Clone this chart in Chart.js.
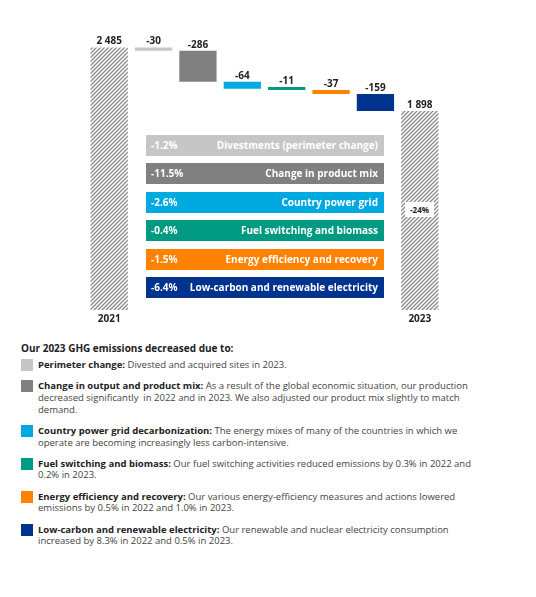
<!DOCTYPE html>
<html>
<head>
<meta charset="utf-8">
<script src="https://cdn.jsdelivr.net/npm/chart.js@4"></script>
<style>
  body { margin: 0; background: #fff; font-family: "Open Sans", sans-serif; }
  #wrap { position: relative; width: 536px; height: 597px; }
  #chartBox { position: absolute; left: 0; top: 0; width: 536px; height: 335px; }
  .driver { position: absolute; left: 146px; width: 238px; height: 21px; color: #fff;
            font-weight: 700; font-size: 10px; line-height: 21px; box-sizing: border-box;
            outline: 1px solid rgba(255,255,255,0.6); }
  .driver .pct { position: absolute; left: 5px; }
  .driver .name { position: absolute; right: 6px; }
  #total { position: absolute; left: 405px; top: 202px; width: 29px; height: 15px; background: #fff;
           font-size: 8px; font-weight: 700; color: #222; text-align: center; line-height: 15px; }
  #legend { position: absolute; left: 21px; top: 342px; width: 500px; font-size: 9.5px; color: #444;
            line-height: 11.67px; white-space: nowrap; }
  #legend h4 { margin: 0 0 4px 0; font-size: 10px; color: #222; font-weight: 700; line-height: 13px; }
  .item { position: relative; padding-left: 17px; margin-bottom: 9.6px; }
  .item .sw { position: absolute; left: 0; top: 0; width: 12px; height: 12px; }
  .item b { color: #222; font-size: 9.5px; }
</style>
</head>
<body>
<div id="wrap">
  <div id="chartBox"><canvas id="c"></canvas></div>
  <div id="drivers"></div>
  <div id="total"></div>
  <div id="legend"></div>
</div>
<script>
// data
const categories = ['2021', 'Perimeter change', 'Change in product mix', 'Country power grid',
  'Fuel switching and biomass', 'Energy efficiency and recovery', 'Low-carbon and renewable electricity', '2023'];
const tickLabels = ['2021', '', '', '', '', '', '', '2023'];
const startTotal = 2485;
const endTotal = 1898;
const changes = [-30, -286, -64, -11, -37, -159];
const shares = ['-1.2%', '-11.5%', '-2.6%', '-0.4%', '-1.5%', '-6.4%'];
const totalShare = '-24%';
const driverNames = ['Divestments (perimeter change)', 'Change in product mix', 'Country power grid',
  'Fuel switching and biomass', 'Energy efficiency and recovery', 'Low-carbon and renewable electricity'];
const colors = ['#c6c6c6', '#808080', '#00a9e0', '#009a82', '#ff8200', '#00338d'];
const legendTitle = 'Our 2023 GHG emissions decreased due to:';
const legendHeads = ['Perimeter change:', 'Change in output and product mix:', 'Country power grid decarbonization:',
  'Fuel switching and biomass:', 'Energy efficiency and recovery:', 'Low-carbon and renewable electricity:'];
const legendTexts = [
  'Divested and acquired sites in 2023.',
  'As a result of the global economic situation, our production<br>decreased significantly&nbsp; in 2022 and in 2023. We also adjusted our product mix slightly to match<br>demand.',
  'The energy mixes of many of the countries in which we<br>operate are becoming increasingly less carbon-intensive.',
  'Our fuel switching activities reduced emissions by 0.3% in 2022 and<br>0.2% in 2023.',
  'Our various energy-efficiency measures and actions lowered<br>emissions by 0.5% in 2022 and 1.0% in 2023.',
  'Our renewable and nuclear electricity consumption<br>increased by 8.3% in 2022 and 0.5% in 2023.'
];

// hatch pattern for the totals
function hatch() {
  const p = document.createElement('canvas');
  p.width = 4; p.height = 4;
  const g = p.getContext('2d');
  g.strokeStyle = '#8a8a8a';
  g.lineWidth = 1.3;
  g.beginPath();
  g.moveTo(0, 4); g.lineTo(4, 0);
  g.moveTo(-1, 1); g.lineTo(1, -1);
  g.moveTo(3, 5); g.lineTo(5, 3);
  g.stroke();
  return g.createPattern(p, 'repeat');
}

// floating bars
const floats = [[0, startTotal]];
let run = startTotal;
changes.forEach(v => { floats.push([run + v, run]); run += v; });
floats.push([0, endTotal]);
const barValues = [startTotal, ...changes, endTotal];

const fmt = n => String(n).replace(/\B(?=(\d{3})+(?!\d))/g, ' ');

const valueLabels = {
  id: 'valueLabels',
  afterDatasetsDraw(chart) {
    const ctx = chart.ctx;
    const meta = chart.getDatasetMeta(0);
    ctx.save();
    ctx.font = 'bold 10px "Open Sans"';
    ctx.fillStyle = '#222';
    ctx.textAlign = 'center';
    ctx.textBaseline = 'bottom';
    meta.data.forEach((bar, i) => {
      const top = Math.min(bar.y, bar.base);
      ctx.fillText(fmt(barValues[i]), bar.x, top - 1);
    });
    ctx.restore();
  }
};

const pat = hatch();
new Chart(document.getElementById('c'), {
  type: 'bar',
  data: {
    labels: categories,
    datasets: [{
      data: floats,
      backgroundColor: [pat, ...colors, pat],
      borderWidth: 0,
      minBarLength: 3,
      barPercentage: 0.84,
      categoryPercentage: 1
    }]
  },
  options: {
    responsive: true,
    maintainAspectRatio: false,
    animation: false,
    layout: { padding: { left: 87, right: 94, top: 20, bottom: 7 } },
    plugins: { legend: { display: false }, tooltip: { enabled: false } },
    scales: {
      x: {
        grid: { display: false, drawTicks: false },
        border: { display: false },
        ticks: {
          autoSkip: false, maxRotation: 0, padding: 3, color: '#222',
          font: { family: 'Open Sans', size: 10, weight: 'bold' },
          callback: (v, i) => tickLabels[i]
        }
      },
      y: { display: false, min: 60, max: 2740 }
    }
  },
  plugins: [valueLabels]
});

// driver boxes
const drv = document.getElementById('drivers');
driverNames.forEach((n, i) => {
  const d = document.createElement('div');
  d.className = 'driver';
  d.style.top = (135 + i * 28.4) + 'px';
  d.style.background = colors[i];
  d.innerHTML = '<span class="pct">' + shares[i] + '</span><span class="name">' + n + '</span>';
  drv.appendChild(d);
});
document.getElementById('total').textContent = totalShare;

// legend
const lg = document.getElementById('legend');
let html = '<h4>' + legendTitle + '</h4>';
legendHeads.forEach((h, i) => {
  html += '<div class="item"><span class="sw" style="background:' + colors[i] + '"></span><b>' + h + '</b> ' + legendTexts[i] + '</div>';
});
lg.innerHTML = html;
</script>
</body>
</html>
